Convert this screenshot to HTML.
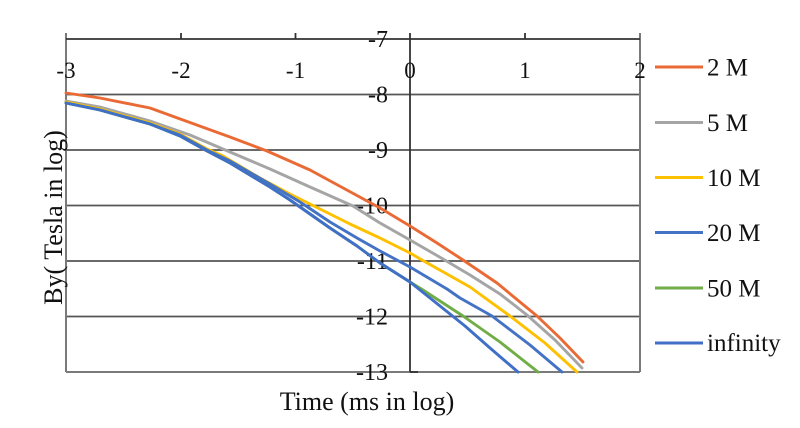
<!DOCTYPE html>
<html>
<head>
<meta charset="utf-8">
<style>
  html, body { margin:0; padding:0; background:#ffffff; }
  body { width:800px; height:428px; overflow:hidden; }
  svg { display:block; }
  text { font-family: "Liberation Serif", "Times New Roman", serif; fill:#111111; }
</style>
</head>
<body>
<svg width="800" height="428" viewBox="0 0 800 428" xmlns="http://www.w3.org/2000/svg">
  <rect x="0" y="0" width="800" height="428" fill="#ffffff"/>

  <!-- horizontal gridlines -->
  <g stroke="#555555" stroke-width="1.8">
    <line x1="66" y1="94.5" x2="640" y2="94.5"/>
    <line x1="66" y1="150" x2="640" y2="150"/>
    <line x1="66" y1="205.5" x2="640" y2="205.5"/>
    <line x1="66" y1="261" x2="640" y2="261"/>
    <line x1="66" y1="316.5" x2="640" y2="316.5"/>
  </g>
  <!-- plot border -->
  <g stroke="#7a7a7a" stroke-width="2">
    <line x1="66" y1="372" x2="640" y2="372"/>
    <line x1="66" y1="33" x2="66" y2="372"/>
    <line x1="640" y1="33" x2="640" y2="372"/>
  </g>
  <!-- top x-axis with ticks -->
  <g stroke="#333333" stroke-width="1.8">
    <line x1="66" y1="39" x2="640" y2="39"/>
    <line x1="181" y1="33" x2="181" y2="39"/>
    <line x1="295.5" y1="33" x2="295.5" y2="39"/>
    <line x1="525" y1="33" x2="525" y2="39"/>
  </g>
  <!-- y-axis at x=0 -->
  <g stroke="#333333" stroke-width="1.8">
    <line x1="410" y1="33" x2="410" y2="372"/>
    <line x1="410" y1="372" x2="418" y2="372"/>
  </g>

  <!-- x tick labels -->
  <g font-size="23" text-anchor="middle">
    <text x="66" y="78">-3</text>
    <text x="181" y="78">-2</text>
    <text x="295.5" y="78">-1</text>
    <text x="410" y="78">0</text>
    <text x="525" y="78">1</text>
    <text x="640" y="78">2</text>
  </g>
  <!-- y tick labels -->
  <g font-size="24" text-anchor="end">
    <text x="388" y="47">-7</text>
    <text x="388" y="102.5">-8</text>
    <text x="388" y="158">-9</text>
    <text x="388" y="213.5">-10</text>
    <text x="388" y="269">-11</text>
    <text x="388" y="324.5">-12</text>
    <text x="388" y="380">-13</text>
  </g>

  <!-- series -->
  <g fill="none" stroke-width="2.9" stroke-linejoin="round" stroke-linecap="round">
    <polyline stroke="#EA6A36" points="66,93 100,98 150,108 183,120 230,137 267,151 310,170 345,189 380,208 410,226 437,243 463,260 497,283 537,316 560,338 583,362"/>
    <polyline stroke="#A5A5A5" points="66,101 100,107 150,121 190,135 230,152 270,169 310,187 353,206 380,223 410,240 443,259 470,275 500,294 527,315 555,340 582,368"/>
    <polyline stroke="#FFC000" points="66,102 100,109 150,123 180,134 207,149 223,156 260,178 290,194 320,209 350,224 380,238 410,253 422,260 470,287 510,316 545,343 577,372"/>
    <polyline stroke="#4472C4" points="66,103 100,110 150,124 180,135 207,150 230,161 270,184 300,202 330,222 357,238 380,251 410,267 447,289 460,298 492,316 530,345 562,372"/>
    <polyline stroke="#70AD47" points="66,103 100,110 150,124 180,136 207,151 230,163 270,187 290,200 330,228 357,246 380,263 410,282 423,290 463,316 500,342 538,372"/>
    <polyline stroke="#3F6FC6" points="66,103 100,110 150,124 180,136 207,151 230,163 270,187 290,200 330,228 357,246 380,263 410,282 465,326 490,348 518,372"/>
  </g>

  <!-- legend -->
  <g stroke-width="3">
    <line x1="655" y1="67" x2="703" y2="67" stroke="#EA6A36"/>
    <line x1="655" y1="122.5" x2="703" y2="122.5" stroke="#A5A5A5"/>
    <line x1="655" y1="177.5" x2="703" y2="177.5" stroke="#FFC000"/>
    <line x1="655" y1="232.5" x2="703" y2="232.5" stroke="#4472C4"/>
    <line x1="655" y1="288" x2="703" y2="288" stroke="#70AD47"/>
    <line x1="655" y1="343" x2="703" y2="343" stroke="#3F6FC6"/>
  </g>
  <g font-size="25">
    <text x="707" y="75.5">2 M</text>
    <text x="707" y="131">5 M</text>
    <text x="707" y="186">10 M</text>
    <text x="707" y="241">20 M</text>
    <text x="707" y="296.5">50 M</text>
    <text x="707" y="351">infinity</text>
  </g>

  <!-- axis titles -->
  <text x="367" y="410" font-size="26" text-anchor="middle">Time (ms in log)</text>
  <text x="0" y="0" font-size="26" text-anchor="middle" transform="translate(62,217.5) rotate(-90)">By( Tesla in log)</text>
</svg>
</body>
</html>
